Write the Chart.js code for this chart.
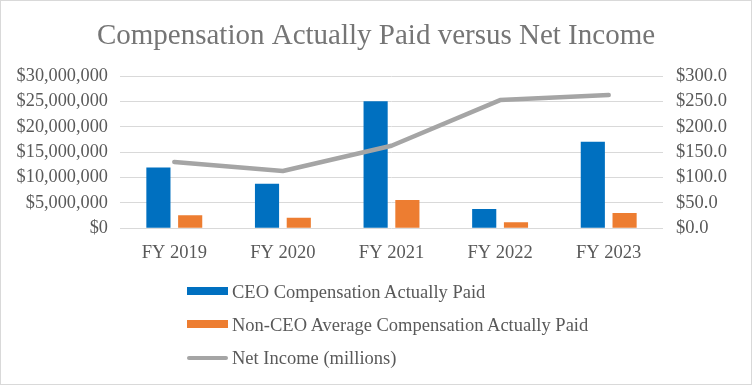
<!DOCTYPE html>
<html>
<head>
<meta charset="utf-8">
<script src="https://cdn.jsdelivr.net/npm/chart.js@4.4.1/dist/chart.umd.min.js"></script>
<style>
  html, body { margin: 0; padding: 0; background: #ffffff; }
  #wrap { position: relative; width: 752px; height: 385px; overflow: hidden; background: #fff; }
  #c { position: absolute; left: 0; top: 0; }
  #frame { position: absolute; left: 0; top: 0; width: 750px; height: 383px; border: 1px solid #d9d9d9; pointer-events: none; }
  #legend { position: absolute; left: 187px; top: 0; font-family: "Liberation Serif", "Times New Roman", serif; font-size: 18.5px; color: #595959; }
  .item { position: absolute; left: 0; white-space: nowrap; height: 20px; }
  .mark { position: absolute; left: 0; width: 41px; }
  .txt { position: absolute; left: 45px; top: 50%; transform: translateY(-50%); line-height: 1; }
</style>
</head>
<body>
<div id="wrap">
  <canvas id="c" width="752" height="385"></canvas>
  <div id="legend"></div>
  <div id="frame"></div>
</div>
<script>
const categories = ["FY 2019", "FY 2020", "FY 2021", "FY 2022", "FY 2023"];
const ceoCap = [12000000, 8800000, 25100000, 3800000, 17100000];
const nonCeoCap = [2600000, 2100000, 5600000, 1200000, 3000000];
const netIncome = [131, 113, 163, 253, 263];
const seriesNames = ["CEO Compensation Actually Paid", "Non-CEO Average Compensation Actually Paid", "Net Income (millions)"];
const titleText = "Compensation Actually Paid versus Net Income";

const FONT = '"Liberation Serif", "Times New Roman", serif';
const TICK = '#595959';
const colors = ['#0070C0', '#ED7D31', '#A5A5A5'];

const chart = new Chart(document.getElementById('c'), {
  type: 'bar',
  data: {
    labels: categories,
    datasets: [
      { label: seriesNames[0], data: ceoCap, backgroundColor: colors[0], yAxisID: 'y', order: 2,
        categoryPercentage: 0.585, barPercentage: 0.76 },
      { label: seriesNames[1], data: nonCeoCap, backgroundColor: colors[1], yAxisID: 'y', order: 2,
        categoryPercentage: 0.585, barPercentage: 0.76 },
      { type: 'line', label: seriesNames[2], data: netIncome, borderColor: colors[2], backgroundColor: colors[2],
        borderWidth: 4.5, pointRadius: 0, tension: 0, yAxisID: 'y1', order: 0, borderCapStyle: 'round', borderJoinStyle: 'round' }
    ]
  },
  options: {
    responsive: false,
    animation: false,
    devicePixelRatio: 1,
    layout: { padding: { left: 0, right: 0, top: 0, bottom: 116.7 } },
    plugins: {
      legend: { display: false },
      tooltip: { enabled: false },
      title: {
        display: true, text: titleText, color: '#757575',
        font: { family: FONT, size: 29, weight: 'normal' },
        padding: { top: 18.5, bottom: 23 }
      }
    },
    scales: {
      x: {
        grid: { display: false, drawTicks: false },
        border: { display: false },
        ticks: { color: TICK, font: { family: FONT, size: 18.5 }, padding: 14, maxRotation: 0 },
        afterFit: (s) => { s.height = 40; }
      },
      y: {
        position: 'left', min: 0, max: 30000000,
        grid: { color: '#d9d9d9', lineWidth: 1, drawTicks: false },
        border: { display: false },
        ticks: { stepSize: 5000000, color: TICK, font: { family: FONT, size: 18.3 }, padding: 12,
          callback: (v) => '$' + Number(v).toLocaleString('en-US') },
        afterFit: (s) => { s.width = 120; }
      },
      y1: {
        position: 'right', min: 0, max: 300,
        grid: { display: false, drawTicks: false },
        border: { display: false },
        ticks: { stepSize: 50, color: TICK, font: { family: FONT, size: 18.5 }, padding: 13,
          callback: (v) => '$' + Number(v).toFixed(1) },
        afterFit: (s) => { s.width = 89; }
      }
    }
  }
});

// Legend built from the chart's datasets
const legend = document.getElementById('legend');
const rowCenters = [292, 325, 357.5];
chart.data.datasets.forEach((ds, i) => {
  const item = document.createElement('div');
  item.className = 'item';
  item.style.top = (rowCenters[i] - 10) + 'px';
  const mark = document.createElement('div');
  mark.className = 'mark';
  if (ds.type === 'line') {
    mark.style.height = '4px'; mark.style.top = '8px'; mark.style.borderRadius = '2px';
    mark.style.background = ds.borderColor;
  } else {
    mark.style.height = '8px'; mark.style.top = '5px';
    mark.style.background = ds.backgroundColor;
  }
  const txt = document.createElement('span');
  txt.className = 'txt';
  txt.textContent = ds.label;
  item.appendChild(mark); item.appendChild(txt);
  legend.appendChild(item);
});
</script>
</body>
</html>
